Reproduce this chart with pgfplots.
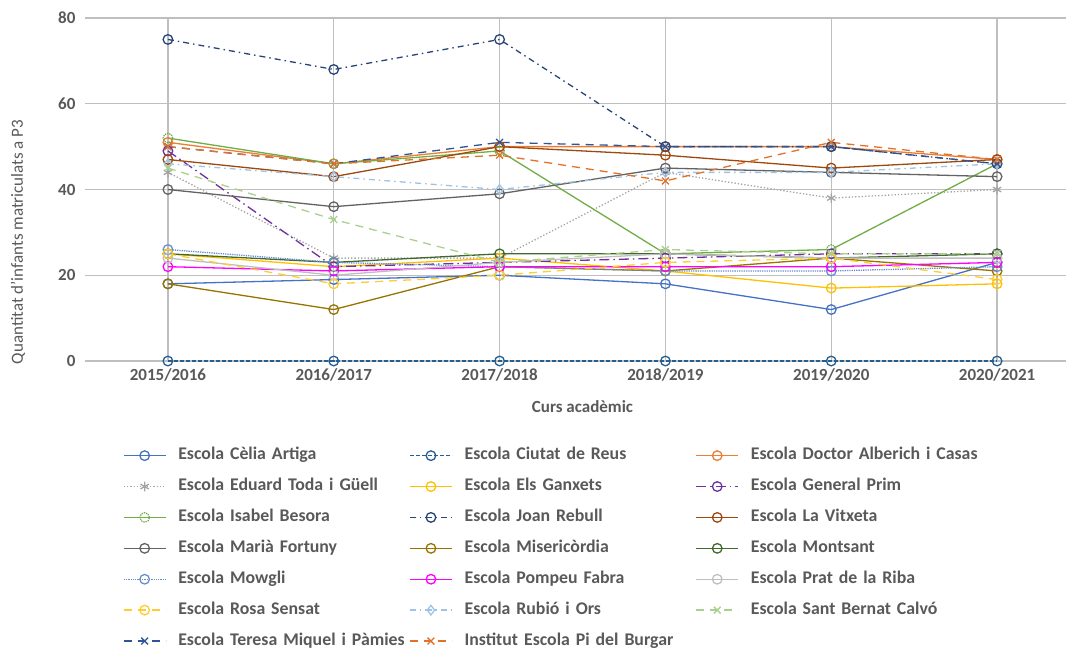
\documentclass[border=0pt]{standalone}
\usepackage{fontspec}
\setmainfont{Carlito}
\usepackage{pgfplots}
\pgfplotsset{compat=1.18}

\definecolor{txt}{HTML}{595959}
\definecolor{grid}{HTML}{D9D9D9}
\definecolor{cCelia}{HTML}{4472C4}
\definecolor{cCiutat}{HTML}{255E91}
\definecolor{cDoctor}{HTML}{ED7D31}
\definecolor{cEduard}{HTML}{A5A5A5}
\definecolor{cGanxets}{HTML}{FFC000}
\definecolor{cPrim}{HTML}{7030A0}
\definecolor{cIsabel}{HTML}{70AD47}
\definecolor{cJoan}{HTML}{264478}
\definecolor{cVitxeta}{HTML}{9E480E}
\definecolor{cMaria}{HTML}{636363}
\definecolor{cMiseri}{HTML}{997300}
\definecolor{cMontsant}{HTML}{43682B}
\definecolor{cMowgli}{HTML}{698ED0}
\definecolor{cPompeu}{HTML}{FF00FF}
\definecolor{cPrat}{HTML}{BFBFBF}
\definecolor{cRosa}{HTML}{FFCD33}
\definecolor{cRubio}{HTML}{9DC3E6}
\definecolor{cBernat}{HTML}{A9D18E}
\definecolor{cTeresa}{HTML}{2F5597}
\definecolor{cPi}{HTML}{E2712A}

\newcommand{\lbl}{\fontsize{17bp}{20bp}\selectfont}
\newcommand{\leg}{\fontsize{17.8bp}{21bp}\selectfont}

\begin{document}
\begin{tikzpicture}
\path[use as bounding box] (0,0) rectangle (1066bp,-651bp);
\begin{axis}[
    at={(85bp,-361bp)}, anchor=south west,
    scale only axis,
    width=995bp, height=343bp,
    xmin=-0.5, xmax=5.5,
    ymin=0, ymax=80,
    axis line style={draw=none},
    tick style={draw=none},
    ytick={0,20,40,60,80},
    xtick={0,1,2,3,4,5},
    xticklabels={2015/2016,2016/2017,2017/2018,2018/2019,2019/2020,2020/2021},
    ymajorgrids,
    grid style={grid, line width=1.2bp},
    /pgf/number format/assume math mode=true,
    ticklabel style={font=\lbl\bfseries, text=txt},
    yticklabel style={xshift=-6bp},
    xticklabel style={yshift=-4bp},
    xlabel={Curs acadèmic},
    ylabel={Quantitat d'infants matriculats a P3},
    xlabel style={font=\lbl\bfseries, text=txt, at={(axis description cs:0.5,-0.134)}, anchor=center},
    ylabel style={font=\lbl, text=txt, at={(axis description cs:-0.0673,0.347)}, anchor=center, rotate=0},
    every axis plot/.append style={line width=1.3bp, mark size=4.8bp},
    legend columns=3,
    legend cell align=left,
    legend image code/.code={\draw[mark repeat=2,mark phase=2] plot coordinates {(0bp,0bp) (21bp,0bp) (42bp,0bp)};},
    legend style={
        at={(axis description cs:0.038,-0.252)}, anchor=north west,
        draw=none, fill=none, inner sep=0pt,
        font=\leg\bfseries, text=txt,
        nodes={inner sep=0pt, text width=231bp, align=left, text height=12bp, text depth=4bp},
        row sep=14.9bp,
        /tikz/every odd column/.append style={column sep=12bp},
        /tikz/every even column/.append style={column sep=0bp},
    },
]
\addplot[color=cCelia, mark=o, mark options={solid}] coordinates {(0,18) (1,19) (2,20) (3,18) (4,12) (5,23)};
\addlegendentry{Escola Cèlia Artiga}
\addplot[color=cCiutat, dash pattern=on 4bp off 2bp, mark=o, mark options={solid}] coordinates {(0,0) (1,0) (2,0) (3,0) (4,0) (5,0)};
\addlegendentry{Escola Ciutat de Reus}
\addplot[color=cDoctor, mark=o, mark options={solid}] coordinates {(0,51) (1,46) (2,50) (3,50) (4,50) (5,47)};
\addlegendentry{Escola Doctor Alberich i Casas}
\addplot[color=cEduard, dotted, mark=asterisk, mark options={solid}] coordinates {(0,44) (1,24) (2,24) (3,44) (4,38) (5,40)};
\addlegendentry{Escola Eduard Toda i Güell}
\addplot[color=cGanxets, mark=o, mark options={solid}] coordinates {(0,25) (1,22) (2,24) (3,21) (4,17) (5,18)};
\addlegendentry{Escola Els Ganxets}
\addplot[color=cPrim, dash pattern=on 10bp off 4bp on 1.5bp off 4bp, mark=o, mark options={solid}] coordinates {(0,49) (1,22) (2,23) (3,24) (4,25) (5,25)};
\addlegendentry{Escola General Prim}
\addplot[color=cIsabel, mark=o, mark options={densely dotted}] coordinates {(0,52) (1,46) (2,49) (3,25) (4,26) (5,46)};
\addlegendentry{Escola Isabel Besora}
\addplot[color=cJoan, dash pattern=on 6bp off 4bp on 1.5bp off 4bp, mark=o, mark options={solid}] coordinates {(0,75) (1,68) (2,75) (3,50) (4,50) (5,46)};
\addlegendentry{Escola Joan Rebull}
\addplot[color=cVitxeta, mark=o, mark options={solid}] coordinates {(0,47) (1,43) (2,50) (3,48) (4,45) (5,47)};
\addlegendentry{Escola La Vitxeta}
\addplot[color=cMaria, mark=o, mark options={solid}] coordinates {(0,40) (1,36) (2,39) (3,45) (4,44) (5,43)};
\addlegendentry{Escola Marià Fortuny}
\addplot[color=cMiseri, mark=o, mark options={solid}] coordinates {(0,18) (1,12) (2,22) (3,21) (4,24) (5,21)};
\addlegendentry{Escola Misericòrdia}
\addplot[color=cMontsant, mark=o, mark options={solid}] coordinates {(0,25) (1,23) (2,25) (3,25) (4,24) (5,25)};
\addlegendentry{Escola Montsant}
\addplot[color=cMowgli, densely dotted, mark=o, mark options={solid}] coordinates {(0,26) (1,23) (2,22) (3,21) (4,21) (5,22)};
\addlegendentry{Escola Mowgli}
\addplot[color=cPompeu, mark=o, mark options={solid}] coordinates {(0,22) (1,21) (2,22) (3,22) (4,22) (5,23)};
\addlegendentry{Escola Pompeu Fabra}
\addplot[color=cPrat, mark=o, mark options={solid}] coordinates {(0,24) (1,20) (2,23) (3,25) (4,24) (5,24)};
\addlegendentry{Escola Prat de la Riba}
\addplot[color=cRosa, dash pattern=on 8bp off 6bp, mark=o, mark options={solid}] coordinates {(0,25) (1,18) (2,20) (3,23) (4,24) (5,19)};
\addlegendentry{Escola Rosa Sensat}
\addplot[color=cRubio, dash pattern=on 6bp off 4bp on 1.5bp off 4bp, mark=diamond, mark options={solid}] coordinates {(0,46) (1,43) (2,40) (3,44) (4,44) (5,46)};
\addlegendentry{Escola Rubió i Ors}
\addplot[color=cBernat, dash pattern=on 8bp off 6bp, mark=x, mark options={solid}] coordinates {(0,45) (1,33) (2,23) (3,26) (4,25) (5,25)};
\addlegendentry{Escola Sant Bernat Calvó}
\addplot[color=cTeresa, dash pattern=on 8bp off 6bp, mark=x, mark options={solid}] coordinates {(0,50) (1,46) (2,51) (3,50) (4,50) (5,46)};
\addlegendentry{Escola Teresa Miquel i Pàmies}
\addplot[color=cPi, dash pattern=on 8bp off 6bp, mark=x, mark options={solid}] coordinates {(0,50) (1,46) (2,48) (3,42) (4,51) (5,47)};
\addlegendentry{Institut Escola Pi del Burgar}
\end{axis}
\end{tikzpicture}
\end{document}
